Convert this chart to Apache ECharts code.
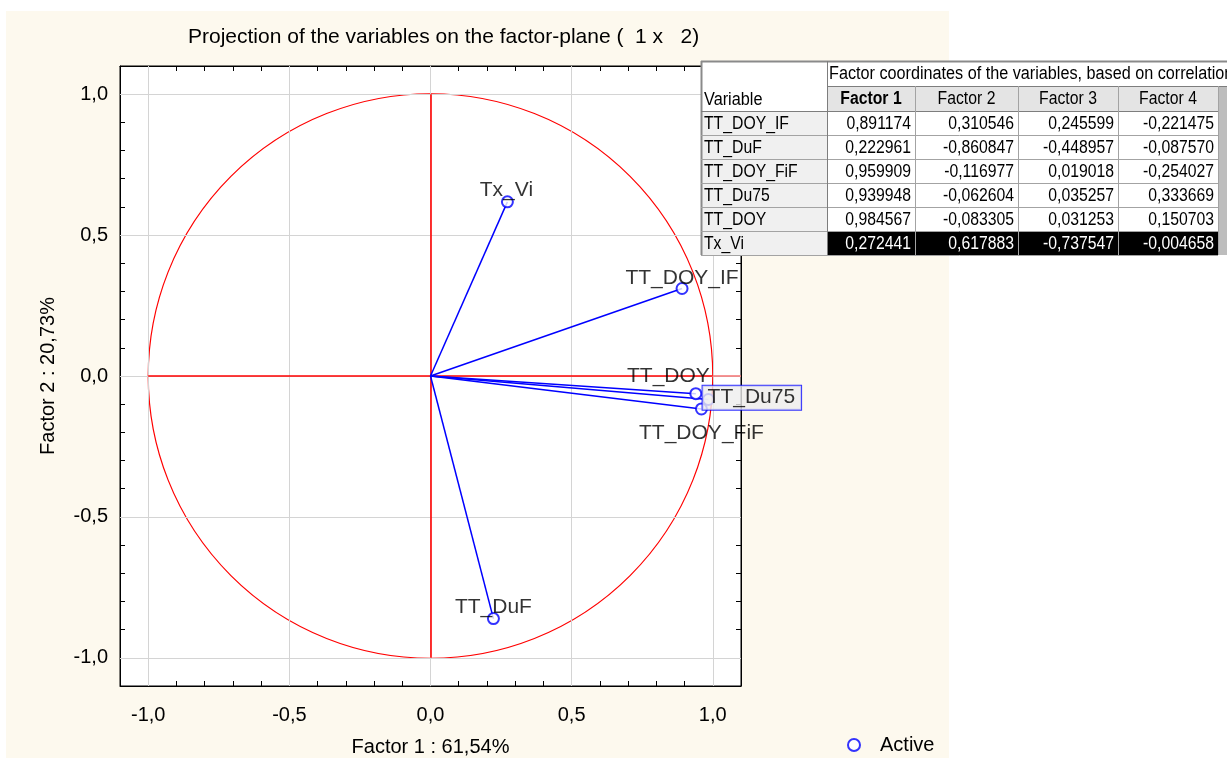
<!DOCTYPE html>
<html><head><meta charset="utf-8">
<script src="https://cdn.jsdelivr.net/npm/echarts@6/dist/echarts.min.js"></script>
<style>
html,body{margin:0;padding:0;background:#fff;}
#bg{position:absolute;left:6px;top:11px;width:943px;height:747px;background:#fdf9ee;}
#chart{position:absolute;left:0;top:0;width:1227px;height:758px;}
</style></head><body>
<div id="bg"></div><div id="chart"></div>
<script>
// ---- data ----
const variables = ['TT_DOY_IF', 'TT_DuF', 'TT_DOY_FiF', 'TT_Du75', 'TT_DOY', 'Tx_Vi'];
const factor1 = [0.891174, 0.222961, 0.959909, 0.939948, 0.984567, 0.272441];
const factor2 = [0.310546, -0.860847, -0.116977, -0.062604, -0.083305, 0.617883];
const factor3 = [0.245599, -0.448957, 0.019018, 0.035257, 0.031253, -0.737547];
const factor4 = [-0.221475, -0.087570, -0.254027, 0.333669, 0.150703, -0.004658];
const factorHeaders = ['Factor 1', 'Factor 2', 'Factor 3', 'Factor 4'];
const majorTicks = [-1, -0.5, 0, 0.5, 1];
const titleText = 'Projection of the variables on the factor-plane (  1 x   2)';
const xName = 'Factor 1 : 61,54%';
const yName = 'Factor 2 : 20,73%';
const tableTitle = 'Factor coordinates of the variables, based on correlations';
const tableVarHeader = 'Variable';
const legendName = 'Active';
const highlightedRow = 'Tx_Vi';

// ---- style (label placement per variable) ----
const labelStyle = {
  'TT_DOY_IF': {offset: [0, -10]},
  'TT_DuF': {offset: [0, -11]},
  'TT_DOY_FiF': {offset: [0, 24]},
  'TT_Du75': {offset: [56, 4], backgroundColor: '#eeeeee', borderColor: '#0000ff', borderWidth: 1, padding: [2, 6, 1, 5]},
  'TT_DOY': {offset: [-40, -23]},
  'Tx_Vi': {offset: [-1, -12]}
};
const FONT = '"Liberation Sans", Arial, sans-serif';

const fmtComma = (v, d) => v.toFixed(d).replace('.', ',');

function axisBase(extra) {
  return Object.assign({
    type: 'value', min: -1.1, max: 1.1, interval: 0.1,
    axisLine: {show: true, onZero: false, lineStyle: {color: '#000', width: 1}},
    axisTick: {show: true, inside: true, length: 5, lineStyle: {color: '#000', width: 1}},
    splitLine: {show: false},
    axisLabel: {show: false}
  }, extra);
}
const tickLabel = {
  show: true, fontSize: 20, color: '#000', fontFamily: FONT,
  formatter: function (v) {
    const r = Math.round(v * 10);
    if (r % 5 !== 0) return '';
    return fmtComma(r / 10, 1);
  }
};

const chart = echarts.init(document.getElementById('chart'), null, {renderer: 'canvas'});

const option = {
  animation: false,
  backgroundColor: 'transparent',
  textStyle: {fontFamily: FONT},
  title: {
    text: titleText, left: 188, top: 27, padding: 0,
    textStyle: {fontSize: 21, fontWeight: 'normal', color: '#000', fontFamily: FONT}
  },
  grid: {left: 120, right: 486, top: 66, bottom: 72, containLabel: false, outerBoundsMode: 'none',
    show: true, backgroundColor: '#fff', borderColor: '#000', borderWidth: 1},
  legend: {
    data: [legendName], left: 847, top: 735, padding: 0, itemWidth: 12, itemHeight: 12,
    textStyle: {fontSize: 20, color: '#000', fontFamily: FONT, padding: [0, 0, 0, 15]},
    itemStyle: {borderWidth: 1.3}
  },
  xAxis: [
    axisBase({position: 'bottom', name: xName, nameLocation: 'middle', nameGap: 51,
      nameTextStyle: {fontSize: 20, color: '#000', fontFamily: FONT},
      axisLabel: Object.assign({margin: 19}, tickLabel)}),
    axisBase({position: 'top'})
  ],
  yAxis: [
    axisBase({position: 'left', name: yName, nameLocation: 'middle', nameGap: 62, nameRotate: 90,
      nameTextStyle: {fontSize: 20, color: '#000', fontFamily: FONT},
      axisLabel: Object.assign({margin: 12}, tickLabel)}),
    axisBase({position: 'right'})
  ],
  series: [
    {
      type: 'line', data: [], z: 1, silent: true,
      markLine: {
        silent: true, symbol: ['none', 'none'], label: {show: false}, animation: false,
        lineStyle: {color: '#d4d4d4', width: 1, type: 'solid'},
        emphasis: {disabled: true},
        data: majorTicks.map(v => ({xAxis: v})).concat(majorTicks.map(v => ({yAxis: v})))
      }
    },
    {
      type: 'line', data: [], z: 3, silent: true,
      markLine: {
        silent: true, symbol: ['none', 'none'], label: {show: false}, animation: false,
        lineStyle: {color: '#ff0000', width: 1.6, type: 'solid'},
        emphasis: {disabled: true},
        data: [
          [{coord: [-1, 0]}, {coord: [1, 0]}],
          [{coord: [0, -1]}, {coord: [0, 1]}],
          [{coord: [1, 0], lineStyle: {color: '#f47a7a'}}, {coord: [1.1, 0]}]
        ]
      }
    },
    {
      type: 'line', data: [], z: 4, silent: true,
      markLine: {
        silent: true, symbol: ['none', 'none'], label: {show: false}, animation: false,
        lineStyle: {color: '#0000ff', width: 1.5, type: 'solid'},
        emphasis: {disabled: true},
        data: variables.map((n, i) => [{coord: [0, 0]}, {coord: [factor1[i], factor2[i]]}])
      }
    },
    {
      type: 'scatter', name: legendName, z: 5,
      symbol: 'emptyCircle', symbolSize: 11,
      itemStyle: {color: '#0000ff', borderWidth: 1.3},
      label: {show: true, position: 'inside', formatter: '{b}', fontSize: 21, color: '#000', fontFamily: FONT},
      data: variables.map((n, i) => ({
        name: n, value: [factor1[i], factor2[i]],
        label: Object.assign({}, labelStyle[n])
      }))
    }
  ]
};
chart.setOption(option);

// ---- unit circle via axis scales ----
const c0 = chart.convertToPixel({xAxisIndex: 0, yAxisIndex: 0}, [0, 0]);
const c1 = chart.convertToPixel({xAxisIndex: 0, yAxisIndex: 0}, [1, 0]);
const radius = c1[0] - c0[0];

// ---- table ----
const cols = [701, 827, 915, 1018, 1118, 1218];
const tTop = 61, h1 = 25, h2 = 25, rowH = 24;
const dataTop = tTop + h1 + h2;
const tBottom = dataTop + rowH * variables.length;
const cellFont = '17.5px ' + FONT;
const g = [];
const Z = 100;
function rect(x, y, w, h, fill, stroke, lw) {
  g.push({type: 'rect', z: Z, silent: true, shape: {x: x, y: y, width: w, height: h},
    style: {fill: fill, stroke: stroke || null, lineWidth: lw || 0}});
}
function line(x1, y1, x2, y2, color, lw) {
  g.push({type: 'line', z: Z + 2, silent: true, shape: {x1: x1, y1: y1, x2: x2, y2: y2},
    style: {stroke: color, lineWidth: lw || 1}});
}
function txt(s, x, y, align, opts) {
  opts = opts || {};
  g.push({type: 'text', z: Z + 3, silent: true, x: x, y: y, scaleX: opts.scaleX || 0.9,
    style: {text: s, x: 0, y: 0, align: align, verticalAlign: 'middle', fill: opts.color || '#000',
      font: (opts.weight ? opts.weight + ' ' : '') + (opts.font || cellFont)}});
}
// backgrounds
rect(cols[0], tTop, 1227 - cols[0], tBottom - tTop, '#ffffff');
rect(cols[1], tTop + h1, cols[5] - cols[1], h2, '#e4e4e4');
rect(cols[5], tTop + h1, 1227 - cols[5], tBottom - tTop - h1, '#bdbdbd');
variables.forEach((n, i) => {
  const y = dataTop + i * rowH;
  rect(cols[0], y, cols[1] - cols[0], rowH, '#f0f0f0');
  if (n === highlightedRow) rect(cols[1], y, cols[5] - cols[1], rowH, '#000000');
});
// grid lines
const lc = '#a3a3a3';
line(cols[0], tTop + 0.5, 1227, tTop + 0.5, '#8a8a8a', 2);
line(cols[0] + 0.5, tTop, cols[0] + 0.5, tBottom, '#8a8a8a', 2);
line(cols[1], tTop + h1 + 0.5, 1227, tTop + h1 + 0.5, '#7d7d7d', 1);
line(cols[0], dataTop + 0.5, cols[5], dataTop + 0.5, '#7d7d7d', 1);
for (let i = 1; i <= variables.length; i++) {
  const y = Math.round(dataTop + i * rowH) + 0.5;
  line(cols[0], y, cols[5], y, lc, 1);
}
line(cols[1] + 0.5, tTop, cols[1] + 0.5, tBottom, '#7d7d7d', 1);
for (let k = 2; k <= 5; k++) {
  line(cols[k] + 0.5, tTop + h1, cols[k] + 0.5, tBottom, lc, 1);
}
// header texts
txt(tableVarHeader, 704, tTop + h1 + h2 - 11, 'left', {scaleX: 0.93});
txt(tableTitle, 829, tTop + h1 / 2 + 1, 'left', {font: '18px ' + FONT, scaleX: 0.9});
factorHeaders.forEach((h, k) => {
  txt(h, (cols[k + 1] + cols[k + 2]) / 2, tTop + h1 + h2 / 2 + 1, 'center', {weight: k === 0 ? 'bold' : '', scaleX: 0.9});
});
const cols4 = [factor1, factor2, factor3, factor4];
variables.forEach((n, i) => {
  const cy = dataTop + i * rowH + rowH / 2 + 1;
  txt(n, 704, cy, 'left', {scaleX: 0.9});
  cols4.forEach((arr, k) => {
    txt(fmtComma(arr[i], 6), cols[k + 2] - 4, cy, 'right', {color: n === highlightedRow ? '#ffffff' : '#000'});
  });
});

chart.setOption({
  graphic: [
    {type: 'circle', z: 2, silent: true, shape: {cx: c0[0], cy: c0[1], r: radius},
      style: {fill: null, stroke: '#ff0000', lineWidth: 1.2}}
  ].concat(g)
});
</script>
</body></html>
